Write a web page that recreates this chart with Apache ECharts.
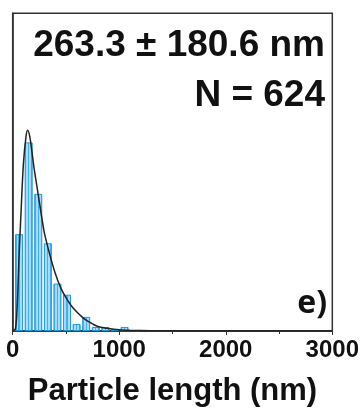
<!DOCTYPE html>
<html>
<head>
<meta charset="utf-8">
<script src="https://cdn.jsdelivr.net/npm/echarts@6/dist/echarts.min.js"></script>
<style>html,body{margin:0;padding:0;background:#fff;}#c{width:362px;height:412px;}</style>
</head>
<body>
<div id="c"></div>
<script>
// Histogram bins (centers, nm) and counts
var binCenters = [60, 150, 240, 330, 420, 510, 600, 690, 780, 870, 960, 1050];
var counts = [96, 187, 136, 87, 47, 36, 7, 14, 4, 4, 2, 4];
// Fitted curve, points
var fitX = [0, 25, 40, 50, 60, 75, 100, 125, 140, 160, 180, 200, 225, 250, 275, 300, 350, 400, 450, 500, 550, 600, 650, 700, 750, 800, 900, 1000, 1100, 1300, 1600, 2000, 3000];
var fitY = [0, 2, 20, 45, 75, 110, 165, 193, 199, 193, 178, 162, 145, 128, 111, 96, 75, 57, 43, 33, 25, 19, 14, 10, 7, 4.5, 2.5, 1.3, 0.8, 0.3, 0.1, 0, 0];
var xTicks = [0, 1000, 2000, 3000];
var statText = '263.3 \u00B1 180.6 nm';
var nText = 'N = 624';
var panelLabel = 'e)';
var xName = 'Particle length (nm)';

var chart = echarts.init(document.getElementById('c'), null, {renderer: 'canvas'});
var barData = binCenters.map(function (c, i) { return [c, counts[i]]; });
var lineData = fitX.map(function (x, i) { return [x, fitY[i]]; });
var font = 'Liberation Sans, Arial, sans-serif';
var mid = '#3fb0f0', light = '#a6dbf9';
var barFill = new echarts.graphic.LinearGradient(0, 0, 1, 0, [
  {offset: 0, color: mid}, {offset: 0.18, color: mid},
  {offset: 0.18, color: light}, {offset: 0.42, color: light},
  {offset: 0.42, color: mid}, {offset: 0.58, color: mid},
  {offset: 0.58, color: light}, {offset: 0.82, color: light},
  {offset: 0.82, color: mid}, {offset: 1, color: mid}
]);

chart.setOption({
  animation: false,
  grid: {left: 12.7, right: 27, top: 13.3, bottom: 76.5, show: true, borderColor: '#333', borderWidth: 1.5, backgroundColor: 'transparent'},
  xAxis: {
    type: 'value', min: 0, max: 3000, interval: 1000,
    name: xName, nameLocation: 'middle', nameGap: 45,
    nameTextStyle: {fontFamily: font, fontWeight: 'bold', fontSize: 31, color: '#111'},
    axisLine: {show: true, lineStyle: {color: '#333', width: 1.5}},
    axisTick: {show: true, length: 4, inside: false, lineStyle: {color: '#333'}},
    minorTick: {show: true, splitNumber: 2, length: 3, lineStyle: {color: '#333'}},
    splitLine: {show: false},
    axisLabel: {fontFamily: font, fontWeight: 'bold', fontSize: 24, color: '#111', margin: 7,
      formatter: function (v) { return xTicks.indexOf(v) >= 0 ? String(v) : ''; }}
  },
  yAxis: {
    type: 'value', min: 0, max: 315,
    axisLine: {show: true, lineStyle: {color: '#333', width: 1.5}},
    axisTick: {show: false}, axisLabel: {show: false}, splitLine: {show: false}
  },
  series: [
    {type: 'bar', data: barData, barWidth: 8, itemStyle: {color: barFill, borderColor: '#1b9be6', borderWidth: 1}},
    {type: 'line', data: lineData, smooth: 0.3, showSymbol: false, symbol: 'none', lineStyle: {color: '#222', width: 1.5}, z: 5}
  ],
  graphic: [
    {type: 'text', right: 37, top: 27, style: {text: statText, fontFamily: font, fontWeight: 'bold', fontSize: 37, fill: '#111'}},
    {type: 'text', right: 37, top: 77, style: {text: nText, fontFamily: font, fontWeight: 'bold', fontSize: 37, fill: '#111'}},
    {type: 'text', right: 35, top: 288, style: {text: panelLabel, fontFamily: 'Open Sans, sans-serif', fontWeight: 'bold', fontSize: 32, fill: '#111'}}
  ]
});
</script>
</body>
</html>
